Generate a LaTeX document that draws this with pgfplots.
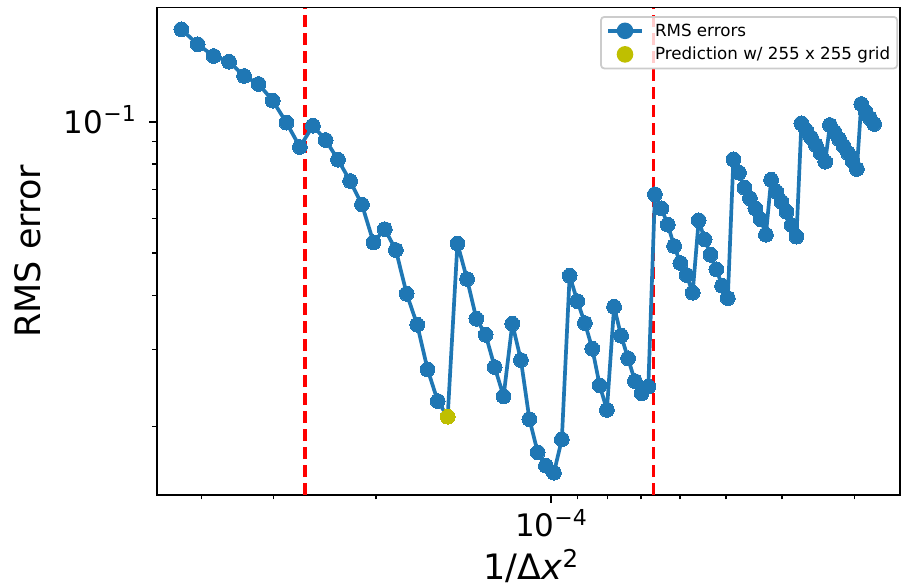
\documentclass[border=0pt]{standalone}
\usepackage{fontspec}
\setmainfont{DejaVu Sans}
\usepackage{pgfplots}
\pgfplotsset{compat=1.18}
\definecolor{c0}{HTML}{1F77B4}
\definecolor{cy}{HTML}{BFBF00}
\definecolor{lg}{HTML}{CCCCCC}
\newcommand{\tickfont}{\fontsize{31bp}{31bp}\selectfont}
\newcommand{\labfont}{\fontsize{35bp}{35bp}\selectfont}
\newcommand{\supr}[1]{\raisebox{11.5bp}{\fontsize{22bp}{22bp}\selectfont #1}}
\begin{document}
\begin{tikzpicture}
\begin{axis}[
  name=ax,
  xmode=log, ymode=log, x dir=reverse,
  scale only axis, width=743.3bp, height=487.5bp,
  xmin=2.507e-5, xmax=4.771e-4, ymin=0.01391, ymax=0.1831,
  axis line style={line width=1.76bp},
  tick align=outside, xtick pos=left, ytick pos=left,
  xtick={1e-4}, xticklabels={{10\supr{−4}}},
  ytick={0.1}, yticklabels={{10\supr{−1}}},
  minor xtick={2e-5,3e-5,4e-5,5e-5,6e-5,7e-5,8e-5,9e-5,2e-4,3e-4,4e-4},
  minor ytick={0.02,0.03,0.04,0.05,0.06,0.07,0.08,0.09},
  major tick length=7.7bp, minor tick length=4.3bp,
  every tick/.style={black, line width=1.76bp},
  every minor tick/.append style={line width=1.32bp},
  tick label style={font=\tickfont, inner sep=0pt},
  xticklabel style={anchor=base, yshift=-34bp},
  yticklabel style={anchor=base east, xshift=-13bp, yshift=-11.3bp},
  every axis x label/.style={at={(rel axis cs:0.5,0)}, anchor=base, xshift=2.5bp, yshift=-84.5bp, font=\labfont, inner sep=0pt, text depth=0pt},
  every axis y label/.style={at={(rel axis cs:0,0.5)}, xshift=-116bp, rotate=90, anchor=base, font=\labfont, inner sep=0pt},
  xlabel={1/Δ\textit{x}\raisebox{12bp}{\fontsize{24.5bp}{24.5bp}\selectfont 2}},
  ylabel={RMS error},
  legend style={at={(1,1)}, anchor=north east, xshift=-2bp, yshift=-8.5bp,
    draw=lg, line width=1.76bp, rounded corners=3.3bp, fill=white, fill opacity=0.8, text opacity=1,
    font=\fontsize{16.7bp}{20bp}\selectfont, inner xsep=5bp, inner ysep=5bp, row sep=5.5bp,
    nodes={inner sep=2bp, text depth=0.15em}, cells={anchor=west}},
  legend cell align=left,
]
\addplot[red, line width=3.3bp, dash pattern=on 12.5bp off 5.5bp, forget plot] coordinates {(2.65e-4,0.01391) (2.65e-4,0.1831)};
\addplot[red, line width=3.3bp, dash pattern=on 12.5bp off 5.5bp, forget plot] coordinates {(6.66e-5,0.01391) (6.66e-5,0.1831)};
\addplot[c0, line width=3.7bp, line join=round, mark=*, mark size=7.4bp, mark options={solid, fill=c0, draw=c0, line width=0pt}, forget plot] coordinates {
(4.3286e-4,0.16316) (4.0556e-4,0.15071) (3.8076e-4,0.14166) (3.5816e-4,0.13746) (3.3753e-4,0.12747)
(3.1862e-4,0.12219) (3.0126e-4,0.11186) (2.8528e-4,0.09958) (2.7054e-4,0.08757) (2.5691e-4,0.09801)
(2.4429e-4,0.09087) (2.3258e-4,0.08188) (2.2168e-4,0.07316) (2.1154e-4,0.06460) (2.0208e-4,0.05291)
(1.9323e-4,0.05672) (1.8496e-4,0.05080) (1.7720e-4,0.04031) (1.6993e-4,0.03422) (1.6309e-4,0.02703)
(1.5666e-4,0.02286) (1.5060e-4,0.02104) (1.4488e-4,0.05257) (1.3949e-4,0.04358) (1.3439e-4,0.03532)
(1.2956e-4,0.03246) (1.2499e-4,0.02736) (1.2066e-4,0.02344) (1.1655e-4,0.03440) (1.1265e-4,0.02839)
(1.0893e-4,0.02078) (1.0540e-4,0.01743) (1.0204e-4,0.01624) (9.8838e-5,0.01565) (9.5783e-5,0.01867)
(9.2867e-5,0.04434) (9.0082e-5,0.03878) (8.7422e-5,0.03453) (8.4877e-5,0.03014) (8.2442e-5,0.02484)
(8.0110e-5,0.02181) (7.7875e-5,0.03763) (7.5733e-5,0.03229) (7.3678e-5,0.02865) (7.1705e-5,0.02541)
(6.9811e-5,0.02381) (6.7991e-5,0.02466) (6.6241e-5,0.06820) (6.4557e-5,0.06332) (6.2937e-5,0.05808)
(6.1378e-5,0.05188) (5.9875e-5,0.04742) (5.8427e-5,0.04451) (5.7031e-5,0.04053) (5.5685e-5,0.05944)
(5.4385e-5,0.05375) (5.3131e-5,0.04955) (5.1919e-5,0.04587) (5.0748e-5,0.04205) (4.9616e-5,0.03940)
(4.8523e-5,0.08205) (4.7464e-5,0.07646) (4.6440e-5,0.07064) (4.5449e-5,0.06679) (4.4490e-5,0.06332)
(4.3560e-5,0.05976) (4.2659e-5,0.05509) (4.1786e-5,0.07366) (4.0939e-5,0.06914) (4.0118e-5,0.06558)
(3.9321e-5,0.06220) (3.8548e-5,0.05799) (3.7797e-5,0.05451) (3.7068e-5,0.09926) (3.6360e-5,0.09555)
(3.5672e-5,0.09209) (3.5003e-5,0.08851) (3.4353e-5,0.08484) (3.3721e-5,0.08101) (3.3106e-5,0.09837)
(3.2508e-5,0.09480) (3.1926e-5,0.09136) (3.1360e-5,0.08804) (3.0808e-5,0.08484) (3.0271e-5,0.08131)
(2.9747e-5,0.07796) (2.9238e-5,0.10992) (2.8741e-5,0.10554) (2.8257e-5,0.10209) (2.7785e-5,0.09890)
};
\addplot[cy, only marks, mark=*, mark size=7.4bp, mark options={fill=cy, draw=cy, line width=0pt}, forget plot] coordinates {(1.5060e-4,0.02104)};
\addlegendimage{c0, legend image code/.code={
    \path[draw=none, fill=none] (0bp,0bp) -- (47bp,0bp);
    \draw[c0, line width=3.7bp, draw opacity=1] (2bp,0bp) -- (36bp,0bp);
    \fill[c0, fill opacity=1] (19bp,0bp) circle[radius=7.4bp];
  }}
\addlegendentry{RMS errors}
\addlegendimage{cy, legend image code/.code={
    \path[draw=none, fill=none] (0bp,0bp) -- (47bp,0bp);
    \fill[cy, fill opacity=1] (19bp,0bp) circle[radius=7.4bp];
  }}
\addlegendentry{Prediction w/ 255 x 255 grid}
\end{axis}
\pgfresetboundingbox
\path ([xshift=-156.7bp,yshift=-93bp]ax.south west) rectangle ([xshift=1bp,yshift=7.5bp]ax.north east);
\end{tikzpicture}
\end{document}
